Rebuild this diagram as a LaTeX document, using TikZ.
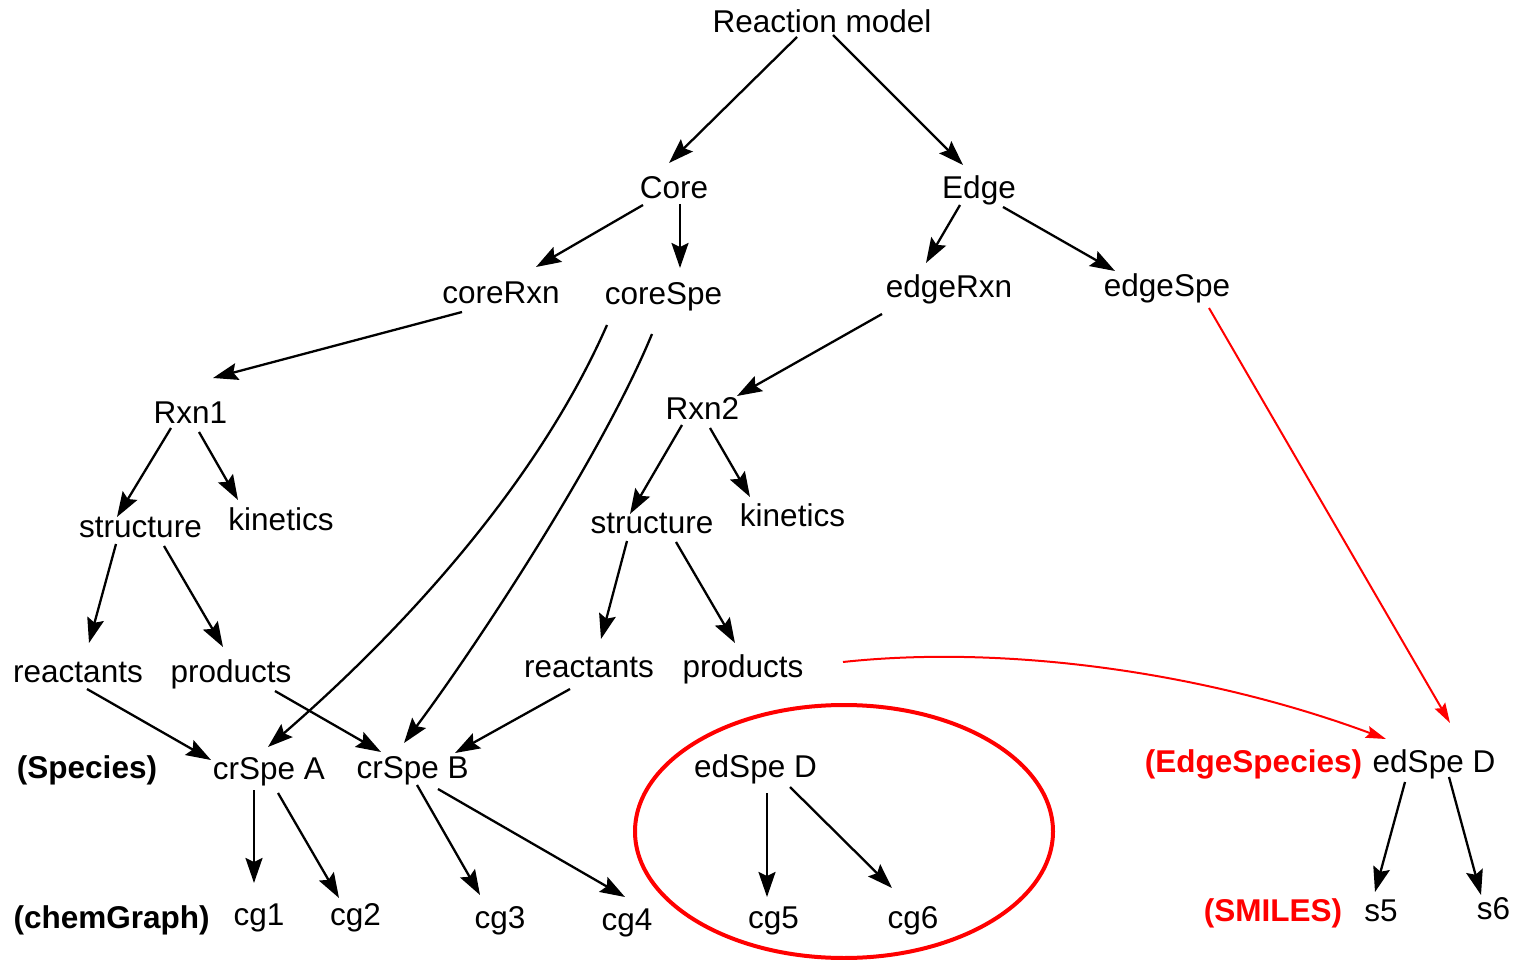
\documentclass[tikz,border=0pt]{standalone}
\usepackage{fontspec}
\setmainfont{Liberation Sans}
\usetikzlibrary{arrows.meta}
\definecolor{hired}{RGB}{255,0,0}
\begin{document}
\begin{tikzpicture}[x=1pt,y=-1pt,
  lbl/.style={anchor=base,inner sep=0pt,font=\fontsize{31.5}{36}\selectfont},
  blbl/.style={lbl,font=\fontsize{31.5}{36}\selectfont\bfseries},
  arr/.style={line width=2.3pt,-{Stealth[length=25pt,width=17pt,inset=4pt]}},
  rarr/.style={line width=2pt,draw=hired,-{Stealth[length=20pt,width=12pt,inset=3pt]}},
  ring/.style={draw=hired,line width=4pt}]
\useasboundingbox[fill=white] (0,0) rectangle (1516,960);
% nodes
\node[lbl] (rm) at (822,33) {Reaction model};
\node[lbl] (core) at (674,199) {Core};
\node[lbl] (edge) at (979,199) {Edge};
\node[lbl] (corerxn) at (501,303) {coreRxn};
\node[lbl] (corespe) at (663.5,305) {coreSpe};
\node[lbl] (edgerxn) at (949,298) {edgeRxn};
\node[lbl] (edgespe) at (1167,296) {edgeSpe};
\node[lbl] (rxn1) at (190.5,423) {Rxn1};
\node[lbl] (rxn2) at (702.5,419) {Rxn2};
\node[lbl] (str1) at (140.5,537) {structure};
\node[lbl] (kin1) at (281,530) {kinetics};
\node[lbl] (str2) at (652,533) {structure};
\node[lbl] (kin2) at (792.5,526) {kinetics};
\node[lbl] (rea1) at (78,682) {reactants};
\node[lbl] (pro1) at (231,682) {products};
\node[lbl] (rea2) at (589,677) {reactants};
\node[lbl] (pro2) at (743,677) {products};
\node[blbl] (species) at (87,778) {(Species)};
\node[lbl] (cra) at (269,779) {crSpe A};
\node[lbl] (crb) at (412.6,778) {crSpe B};
\node[lbl] (edd) at (755.5,777) {edSpe D};
\node[blbl,text=hired] (edgespecies) at (1253.5,772) {(EdgeSpecies)};
\node[lbl] (edd2) at (1434,772) {edSpe D};
\node[blbl] (chemgraph) at (111.7,928) {(chemGraph)};
\node[lbl] (cg1) at (259,925) {cg1};
\node[lbl] (cg2) at (355.5,925) {cg2};
\node[lbl] (cg3) at (500,928) {cg3};
\node[lbl] (cg4) at (627,930) {cg4};
\node[lbl] (cg5) at (773.5,928) {cg5};
\node[lbl] (cg6) at (913,928) {cg6};
\node[blbl,text=hired] (smiles) at (1273,921) {(SMILES)};
\node[lbl] (s5) at (1381,921) {s5};
\node[lbl] (s6) at (1493.5,919) {s6};
% ellipse around edSpe D subtree
\draw[ring] ([shift={(88.5,54.5)}]edd.base) ellipse [x radius=209, y radius=126.5];
% connectors
\draw[arr] ([shift={(-25,4)}]rm.base) -- ([shift={(-5,-36)}]core.base);
\draw[arr] ([shift={(11,2)}]rm.base) -- ([shift={(-16,-34)}]edge.base);
\draw[arr] ([shift={(-31,6)}]core.base) -- ([shift={(35,-36)}]corerxn.base);
\draw[arr] ([shift={(6,5)}]core.base) -- ([shift={(16.5,-37)}]corespe.base);
\draw[arr] ([shift={(-19,6)}]edge.base) -- ([shift={(-23,-35)}]edgerxn.base);
\draw[arr] ([shift={(24,8)}]edge.base) -- ([shift={(-52,-25)}]edgespe.base);
\draw[arr] ([shift={(-39,9)}]corerxn.base) -- ([shift={(22.5,-45)}]rxn1.base);
\draw[arr] ([shift={(-67,16)}]edgerxn.base) -- ([shift={(34.5,-23)}]rxn2.base);
\draw[arr] ([shift={(-19.5,5)}]rxn1.base) -- ([shift={(-23.5,-20)}]str1.base);
\draw[arr] ([shift={(8.5,9)}]rxn1.base) -- ([shift={(-43,-30)}]kin1.base);
\draw[arr] ([shift={(-20.5,6)}]rxn2.base) -- ([shift={(-22,-19)}]str2.base);
\draw[arr] ([shift={(7.5,9)}]rxn2.base) -- ([shift={(-42.5,-29)}]kin2.base);
\draw[arr] ([shift={(-24.5,7)}]str1.base) -- ([shift={(11,-39)}]rea1.base);
\draw[arr] ([shift={(23.5,9)}]str1.base) -- ([shift={(-8,-35)}]pro1.base);
\draw[arr] ([shift={(-25,8)}]str2.base) -- ([shift={(12,-38)}]rea2.base);
\draw[arr] ([shift={(24,9)}]str2.base) -- ([shift={(-8,-34)}]pro2.base);
\draw[arr] ([shift={(-56.5,20)}]corespe.base) .. controls +(-77,175) and +(112,-97) .. ([shift={(-1,-32)}]cra.base);
\draw[arr] ([shift={(-11.5,29)}]corespe.base) .. controls +(-52,126) and +(66,-88) .. ([shift={(-8.6,-35)}]crb.base);
\draw[arr] ([shift={(9,7)}]rea1.base) -- ([shift={(-58,-19)}]cra.base);
\draw[arr] ([shift={(44,9)}]pro1.base) -- ([shift={(-31.6,-26)}]crb.base);
\draw[arr] ([shift={(-19,12)}]rea2.base) -- ([shift={(42.4,-25)}]crb.base);
\draw[arr] ([shift={(-15,11)}]cra.base) -- ([shift={(-5,-42)}]cg1.base);
\draw[arr] ([shift={(9,14)}]cra.base) -- ([shift={(-16.5,-27)}]cg2.base);
\draw[arr] ([shift={(4.4,7)}]crb.base) -- ([shift={(-20,-33)}]cg3.base);
\draw[arr] ([shift={(25.4,11)}]crb.base) -- ([shift={(-2,-33)}]cg4.base);
\draw[arr] ([shift={(11.5,16)}]edd.base) -- ([shift={(-6.5,-31)}]cg5.base);
\draw[arr] ([shift={(34.5,10)}]edd.base) -- ([shift={(-21,-40)}]cg6.base);
\draw[arr] ([shift={(-29,10)}]edd2.base) -- ([shift={(-6,-29)}]s5.base);
\draw[arr] ([shift={(15,5)}]edd2.base) -- ([shift={(-12.5,-24)}]s6.base);
\draw[rarr] ([shift={(42,12)}]edgespe.base) -- ([shift={(16,-49)}]edd2.base);
\draw[rarr] ([shift={(100,-15)}]pro2.base) .. controls +(157,-17) and +(-186,-69) .. ([shift={(-48,-33)}]edd2.base);
\end{tikzpicture}
\end{document}
